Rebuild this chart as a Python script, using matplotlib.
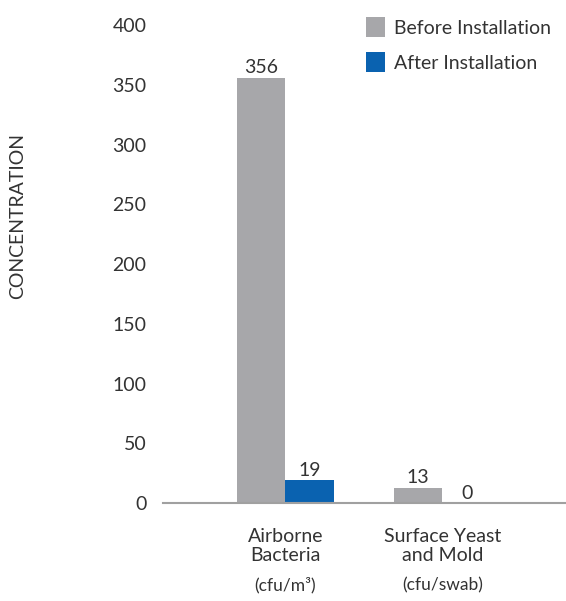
import matplotlib.pyplot as plt
import numpy as np

plt.rcParams['font.family'] = ['Lato', 'DejaVu Sans']

categories = ["Airborne\nBacteria", "Surface Yeast\nand Mold"]
units = ["(cfu/m³)", "(cfu/swab)"]
before = [356, 13]
after = [19, 0]
series_names = ["Before Installation", "After Installation"]
y_ticks = [0, 50, 100, 150, 200, 250, 300, 350, 400]

grey = "#a7a7aa"
blue = "#0a62b0"
text_col = "#333333"

fig = plt.figure(figsize=(5.66, 6.01), dpi=100)
ax = fig.add_axes([0.288, 0.163, 0.710, 0.795])

x = np.arange(len(categories))
w = 0.31
b1 = ax.bar(x - w / 2, before, w, color=grey, label=series_names[0])
b2 = ax.bar(x + w / 2, after, w, color=blue, label=series_names[1])

# value labels above each bar
for bars, vals in ((b1, before), (b2, after)):
    for rect, v in zip(bars, vals):
        ax.annotate(str(v), (rect.get_x() + rect.get_width() / 2, v),
                    xytext=(0, 1), textcoords="offset points",
                    ha="center", va="bottom", fontsize=14, color=text_col)

ax.set_xlim(-0.78, 1.78)
ax.set_ylim(0, 400)
ax.set_yticks(y_ticks)
ax.tick_params(axis="y", length=0, pad=12, labelsize=14, labelcolor=text_col)
ax.set_xticks(x)
ax.set_xticklabels(categories, fontsize=14, color=text_col, linespacing=1.15)
ax.tick_params(axis="x", length=0, pad=18)

# units under the category names
for xi, u in zip(x, units):
    ax.annotate(u, (xi, 0), xycoords=("data", "axes fraction"),
                xytext=(0, -59), textcoords="offset points",
                ha="center", va="center", fontsize=12.5, color=text_col)

for s in ("top", "right", "left"):
    ax.spines[s].set_visible(False)
ax.spines["bottom"].set_color("#a0a0a0")
ax.spines["bottom"].set_linewidth(1.5)

fig.text(0.032, 0.64, "CONCENTRATION", rotation=90, ha="center", va="center",
         fontsize=14, color=text_col)

fig.legend(loc="upper left", bbox_to_anchor=(0.615, 1.0), frameon=False,
           fontsize=14, handlelength=1.0, handleheight=1.15, handletextpad=0.45,
           labelspacing=0.8, labelcolor=text_col)

fig.savefig("out.png", dpi=100)
